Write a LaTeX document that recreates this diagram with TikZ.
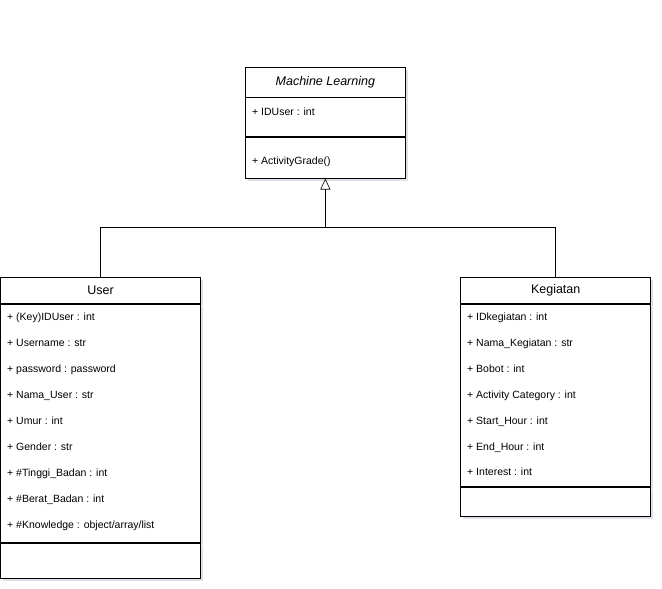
\documentclass[tikz,border=0pt]{standalone}
\usepackage{fontspec}
\setmainfont{Liberation Sans}
\usetikzlibrary{positioning,arrows.meta,shadows}

\begin{document}
\begin{tikzpicture}[x=1pt, y=-1pt,
  compart/.style={draw, semithick, fill=white, inner sep=0pt, minimum width=#1,
    drop shadow={shadow xshift=2.5pt, shadow yshift=-2.5pt, fill=blue!15!gray!35, opacity=0.6}},
  classname/.style={font=\fontsize{12.5}{14}\selectfont},
  member/.style={anchor=base west, inner sep=0pt, font=\fontsize{10.5}{12}\selectfont},
  inherit/.style={-{Triangle[open, length=11pt, width=10pt]}, semithick}
]
\useasboundingbox (0,0) rectangle (662,589);

% superclass
\node[compart=159.3pt, minimum height=29.4pt, anchor=north, font=\fontsize{12.5}{14}\selectfont\itshape] (mltitle) at (325.35,67.3) {Machine Learning};
\node[compart=159.3pt, minimum height=38.6pt, below=0pt of mltitle] (mlattr) {};
\node[compart=159.3pt, minimum height=41.4pt, below=0pt of mlattr] (mlmeth) {};
\node[member] (mlid) at (252,115) {+ IDUser : int};
\node[member] (mlgrade) at (252,164) {+ ActivityGrade()};

% User
\node[compart=200pt, minimum height=26pt, anchor=north, classname] (usertitle) at (100.5,277.3) {User};
\node[compart=200pt, minimum height=238.4pt, below=0pt of usertitle] (userattr) {};
\node[compart=200pt, minimum height=35pt, below=0pt of userattr] (usermeth) {};
\foreach \txt [count=\i from 0] in {{+ (Key)IDUser : int}, {+ Username : str},
    {+ password : password}, {+ Nama\_User : str}, {+ Umur : int},
    {+ Gender : str}, {+ \#Tinggi\_Badan : int}, {+ \#Berat\_Badan : int},
    {+ \#Knowledge : object/array/list}}
  \node[member] (u\i) at (7,320+26*\i) {\txt};

% Kegiatan
\node[compart=190pt, minimum height=26pt, anchor=north, classname] (kegtitle) at (555.7,277.3) {Kegiatan};
\node[compart=190pt, minimum height=182.4pt, below=0pt of kegtitle] (kegattr) {};
\node[compart=190pt, minimum height=29pt, below=0pt of kegattr] (kegmeth) {};
\foreach \txt/\yy [count=\i] in {{+ IDkegiatan : int}/320, {+ Nama\_Kegiatan : str}/346,
    {+ Bobot : int}/372, {+ Activity Category : int}/398, {+ Start\_Hour : int}/424,
    {+ End\_Hour : int}/450, {+ Interest : int}/475}
  \node[member] (k\i) at (467,\yy) {\txt};

% generalisation
\coordinate (join) at (325.35,227.3);
\draw[semithick] (usertitle.north) |- (join);
\draw[semithick] (kegtitle.north) |- (join);
\draw[inherit] (join) -- (mlmeth.south);
\end{tikzpicture}
\end{document}
